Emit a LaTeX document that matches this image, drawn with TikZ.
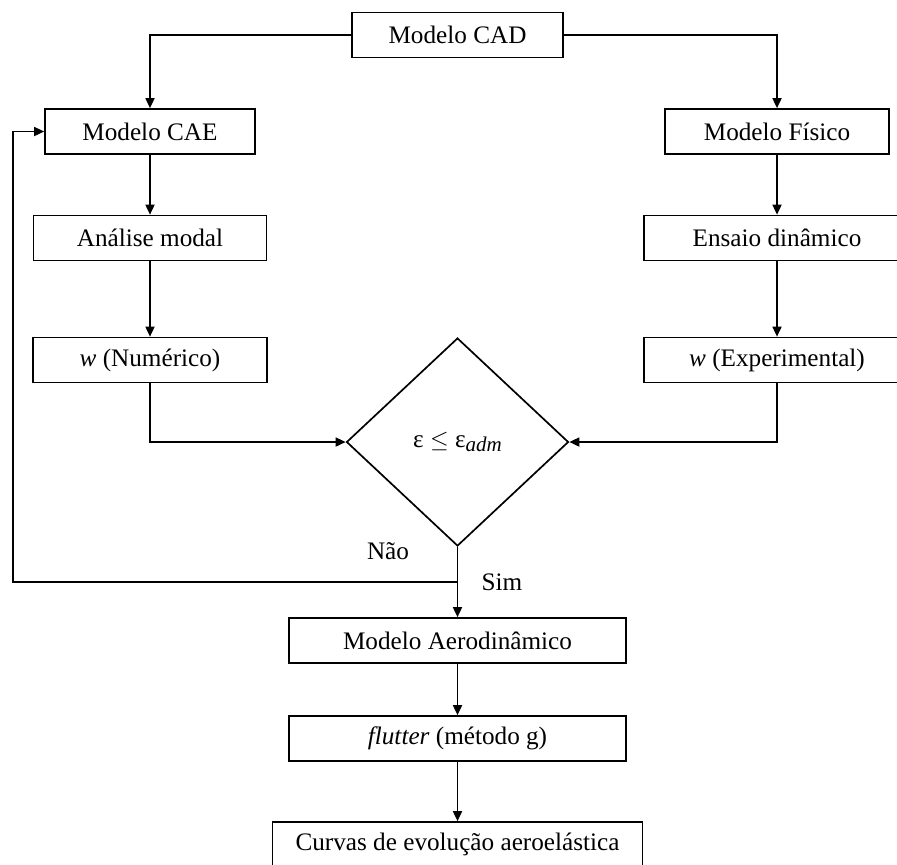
\documentclass[tikz,border=0pt]{standalone}
\usepackage{fontspec}
\setmainfont{Liberation Serif}
\usetikzlibrary{shapes.geometric,arrows.meta}

\begin{document}
\begin{tikzpicture}[x=0.5pt,y=-0.5pt,
	font=\fontsize{12.6}{15}\selectfont,
	caixa/.style={draw, rectangle, line width=0.85pt, minimum height=22.5pt, inner sep=0pt},
	decisao/.style={draw, diamond, line width=0.85pt, minimum width=111pt, minimum height=104pt, inner sep=0pt},
	seta/.style={-{Triangle[length=5pt,width=4.5pt]}, line width=0.85pt}]
	\useasboundingbox (0,0) rectangle (897,864);
	\clip (0,0) rectangle (897,864);

	\node[caixa, minimum width=105.5pt] (cad) at (457.5,35) {Modelo CAD};
	\node[caixa, minimum width=105pt] (cae) at (150,131.5) {Modelo CAE};
	\node[caixa, minimum width=112pt] (fisico) at (777,131.5) {Modelo Físico};
	\node[caixa, minimum width=116.5pt] (analise) at (150,238) {Análise modal};
	\node[caixa, minimum width=133pt] (ensaio) at (777,238) {Ensaio dinâmico};
	\node[caixa, minimum width=117pt] (num) at (150,360) {\textit{w} (Numérico)};
	\node[caixa, minimum width=133pt] (exp) at (777,360) {\textit{w} (Experimental)};
	\node[decisao] (erro) at (457.5,442) {ε $\leq$ ε\raisebox{-0.35ex}{\fontsize{10.5}{12}\selectfont\textit{adm}}};
	\node[caixa, minimum width=168.5pt] (aero) at (457.5,640.5) {Modelo Aerodinâmico};
	\node[caixa, minimum width=168.5pt] (flutter) at (457.5,738.5) {\textit{flutter} (método g)};
	\node[caixa, minimum width=185pt] (curvas) at (457.5,844.5) {Curvas de evolução aeroelástica};

	\node (nao) at (388,551) {Não};
	\node (sim) at (502,582) {Sim};
	\coordinate (ramo) at (457.5,582);
	\coordinate (retorno) at (13,582);

	\draw[seta] (cad.west) -| (cae.north);
	\draw[seta] (cad.east) -| (fisico.north);
	\draw[seta] (cae) -- (analise);
	\draw[seta] (analise) -- (num);
	\draw[seta] (fisico) -- (ensaio);
	\draw[seta] (ensaio) -- (exp);
	\draw[seta] (num.south) |- (erro.west);
	\draw[seta] (exp.south) |- (erro.east);
	\draw[seta] (erro.south) -- (aero.north);
	\draw[seta] (ramo) -- (retorno) |- (cae.west);
	\draw[seta] (aero) -- (flutter);
	\draw[seta] (flutter) -- (curvas);
\end{tikzpicture}
\end{document}
